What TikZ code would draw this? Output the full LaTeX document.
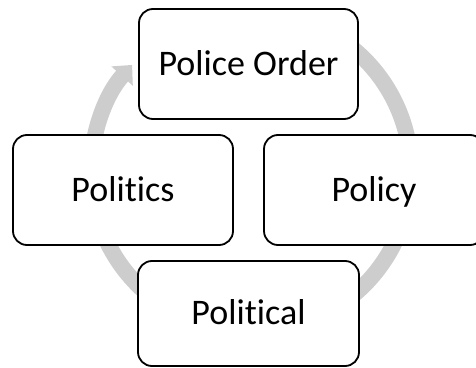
\documentclass[tikz,border=0pt]{standalone}
\usepackage{fontspec}
\setmainfont{Carlito}[Ligatures=NoCommon]
\usetikzlibrary{arrows.meta}
\definecolor{ringgray}{RGB}{205,205,205}
\tikzset{
  stage/.style={draw=black, line width=1.8pt, rounded corners=14pt, fill=white,
    inner sep=0pt, minimum width=220pt, minimum height=110pt,
    font=\fontsize{36}{43}\selectfont, text height=22.5pt, text depth=0pt},
  cycle ring/.style={draw=ringgray, line width=16pt,
    -{Triangle[length=15pt, width=28pt]}}
}
\begin{document}
\begin{tikzpicture}[x=1pt, y=1pt]
  \useasboundingbox (0,0) rectangle (476,367);
  % centre of the cycle ring
  \coordinate (hub) at (251,195);
  % the grey cycle arrow, running clockwise behind the stages
  \draw[cycle ring] ([shift={(60:160)}]hub) arc[start angle=60, end angle=-222, radius=160];
  % the four stages
  \node[stage, minimum width=219pt] (order) at (248.5,303) {Police Order};
  \node[stage] (politics) at (123,177) {Politics};
  \node[stage] (policy) at (374,177) {Policy};
  \node[stage, minimum width=221pt, minimum height=105pt] (political) at (248.5,53.5) {Political};
\end{tikzpicture}
\end{document}
